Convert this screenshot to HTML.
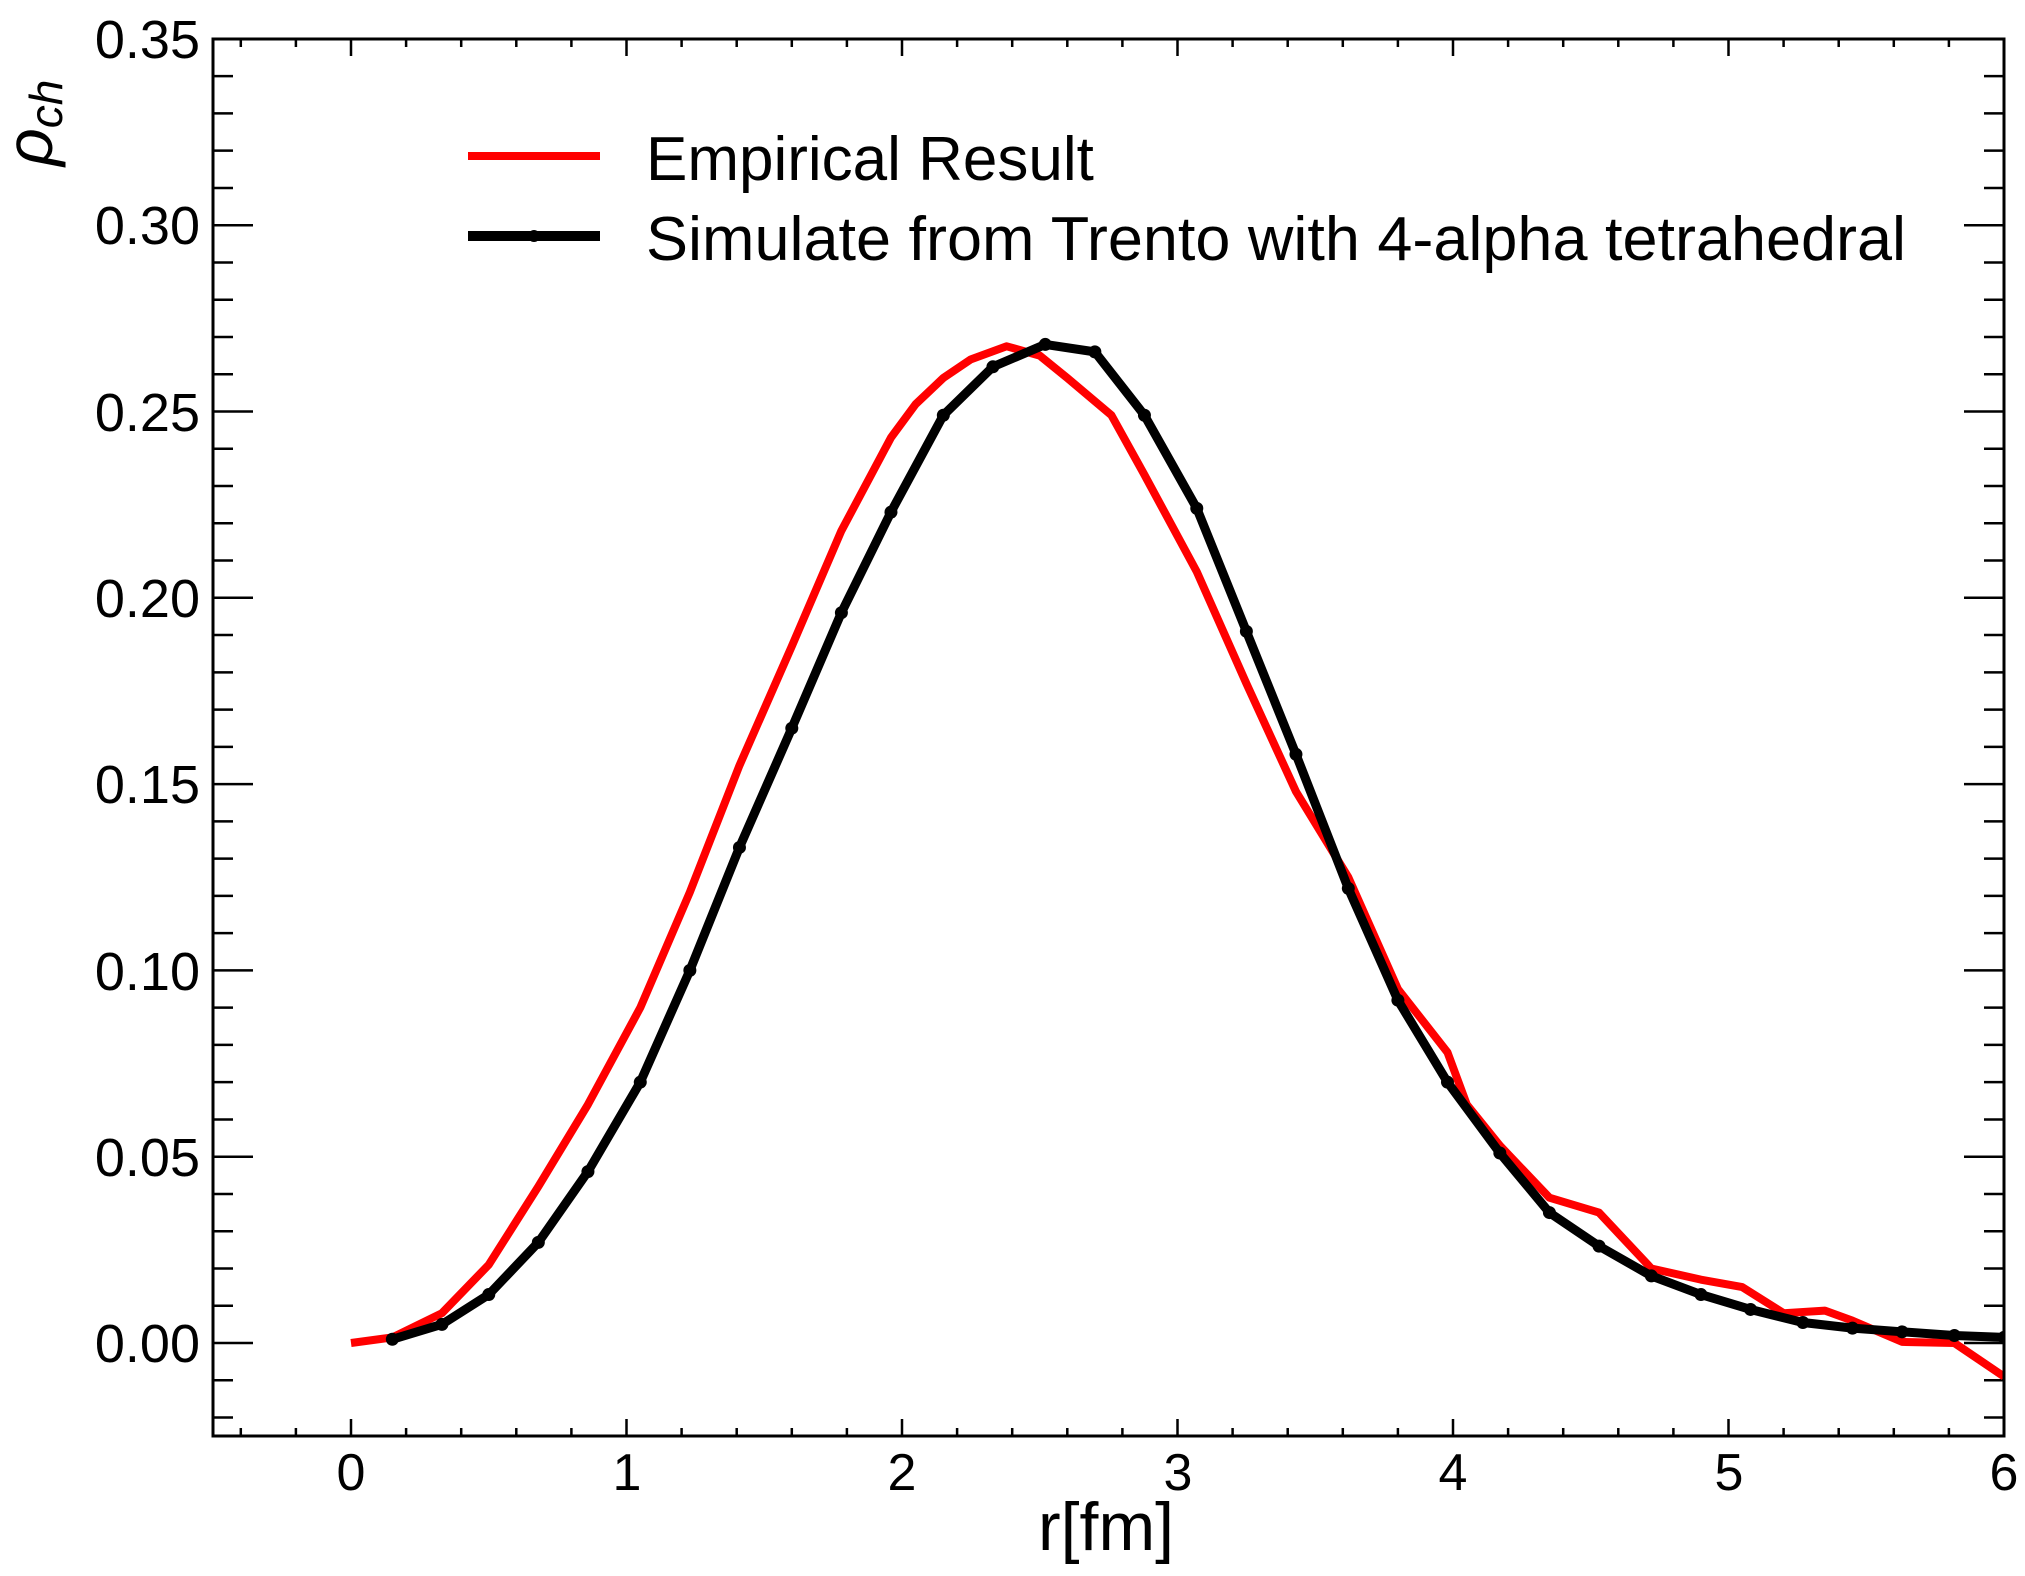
<!DOCTYPE html>
<html><head><meta charset="utf-8"><style>
html,body{margin:0;padding:0;background:#fff;}
svg{display:block;font-family:"Liberation Sans",sans-serif;}
</style></head><body>
<svg id="s" width="2025" height="1576" viewBox="0 0 2025 1576" xmlns="http://www.w3.org/2000/svg">
<rect width="2025" height="1576" fill="#fff"/>
<defs><clipPath id="c"><rect x="213" y="39" width="1791" height="1397"/></clipPath></defs>
<g id="ticks" stroke="#000" stroke-width="2.5" fill="none"></g>
<g clip-path="url(#c)">
<g transform="translate(351,1343) scale(275.5,-3726)" fill="none" stroke-linejoin="round">
<polyline vector-effect="non-scaling-stroke" stroke="#f00" stroke-width="8" points="0,0 0.15,0.0015 0.33,0.008 0.5,0.021 0.68,0.042 0.86,0.064 1.05,0.09 1.23,0.121 1.41,0.155 1.6,0.187 1.78,0.218 1.96,0.243 2.05,0.252 2.15,0.259 2.25,0.264 2.38,0.2675 2.5,0.265 2.6,0.259 2.76,0.249 2.88,0.233 3.07,0.207 3.25,0.177 3.43,0.148 3.62,0.125 3.8,0.095 3.98,0.078 4.05,0.064 4.17,0.053 4.35,0.039 4.53,0.035 4.72,0.02 4.9,0.017 5.05,0.015 5.2,0.008 5.35,0.0087 5.45,0.006 5.63,0.0003 5.82,0 6.0,-0.009"/>
<polyline id="bl" vector-effect="non-scaling-stroke" stroke="#000" stroke-width="9" points="0.15,0.001 0.33,0.005 0.5,0.013 0.68,0.027 0.86,0.046 1.05,0.07 1.23,0.1 1.41,0.133 1.6,0.165 1.78,0.196 1.96,0.223 2.15,0.249 2.33,0.262 2.52,0.268 2.7,0.266 2.88,0.249 3.07,0.224 3.25,0.191 3.43,0.158 3.62,0.122 3.8,0.092 3.98,0.07 4.17,0.051 4.35,0.035 4.53,0.026 4.72,0.018 4.9,0.013 5.08,0.009 5.27,0.0055 5.45,0.004 5.63,0.003 5.82,0.002 6.0,0.0015"/>
</g>
<g id="mk" fill="#000"></g>
</g>
<rect x="213" y="39" width="1791" height="1397" fill="none" stroke="#000" stroke-width="3"/>
<g font-size="54" text-anchor="end" fill="#000">
<text x="200" y="58">0.35</text>
<text x="200" y="244">0.30</text>
<text x="200" y="431">0.25</text>
<text x="200" y="617">0.20</text>
<text x="200" y="803">0.15</text>
<text x="200" y="990">0.10</text>
<text x="200" y="1176">0.05</text>
<text x="200" y="1362">0.00</text>
</g>
<g font-size="52" text-anchor="middle" fill="#000">
<text x="351" y="1490">0</text>
<text x="627" y="1490">1</text>
<text x="902" y="1490">2</text>
<text x="1178" y="1490">3</text>
<text x="1453" y="1490">4</text>
<text x="1729" y="1490">5</text>
<text x="2004" y="1490">6</text>
</g>
<text x="1106" y="1550" font-size="68" text-anchor="middle">r[fm]</text>
<text transform="translate(52,166) rotate(-90)" font-size="66" font-style="italic">ρ<tspan font-size="46" dy="10">ch</tspan></text>
<line x1="468" y1="156" x2="600" y2="156" stroke="#f00" stroke-width="8"/>
<line x1="468" y1="236" x2="600" y2="236" stroke="#000" stroke-width="10"/>
<circle cx="534" cy="236" r="6" fill="#000"/>
<text x="646" y="180" font-size="62">Empirical Result</text>
<text x="646" y="260" font-size="62" textLength="1260" lengthAdjust="spacingAndGlyphs">Simulate from Trento with 4-alpha tetrahedral</text>
</svg>
<script>
(function(){
var X=function(x){return 351+275.5*x;},Y=function(y){return 1343-3726*y;};
var d="";
for(var k=-2;k<=30;k++){var x=X(k*0.2);var maj=(k%5===0);var L=maj?17:8;
d+="M"+x+",1436v"+(-L)+"M"+x+",39v"+L;}
for(var k=-2;k<=35;k++){var y=Y(k*0.01);var maj=(k%5===0);var L=maj?40:20;
d+="M213,"+y+"h"+L+"M2004,"+y+"h"+(-L);}
var p=document.createElementNS("http://www.w3.org/2000/svg","path");p.setAttribute("d",d);
document.getElementById("ticks").appendChild(p);
var pts=document.getElementById("bl").getAttribute("points").trim().split(/\s+/);
var g=document.getElementById("mk");
pts.forEach(function(s){var a=s.split(",");var c=document.createElementNS("http://www.w3.org/2000/svg","circle");
c.setAttribute("cx",X(+a[0]));c.setAttribute("cy",Y(+a[1]));c.setAttribute("r",6.5);g.appendChild(c);});
})();
</script>
</body></html>
